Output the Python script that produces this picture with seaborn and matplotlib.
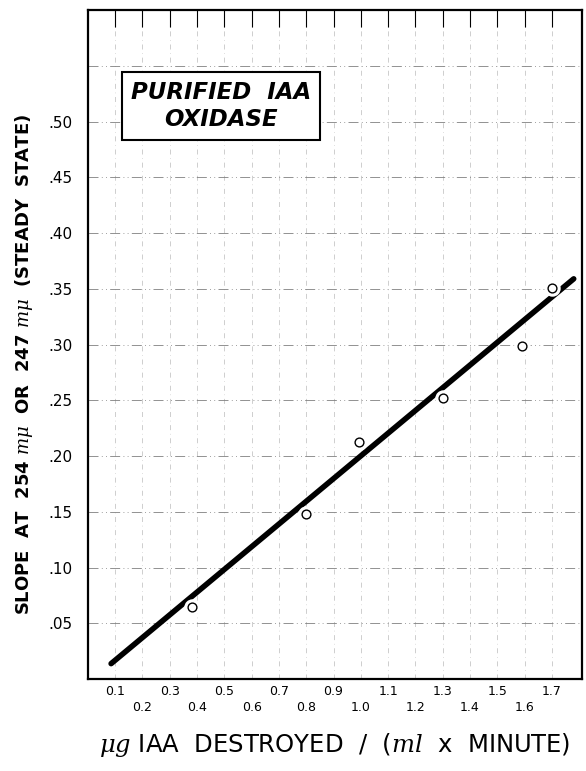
import numpy as np
import pandas as pd
import seaborn as sns
import matplotlib
matplotlib.use("Agg")
import matplotlib.pyplot as plt

# measured points (open circles)
rate = [0.38, 0.80, 0.995, 1.30, 1.59, 1.70]
slope = [0.065, 0.148, 0.213, 0.252, 0.299, 0.351]

# hand drawn fit line end points
fit_x = [0.085, 1.78]
fit_y = [0.014, 0.359]

x_major = [0.2, 0.4, 0.6, 0.8, 1.0, 1.2, 1.4, 1.6]
x_minor = [0.1, 0.3, 0.5, 0.7, 0.9, 1.1, 1.3, 1.5, 1.7]
y_ticks = [0.05, 0.10, 0.15, 0.20, 0.25, 0.30, 0.35, 0.40, 0.45, 0.50, 0.55]
y_labels = [".05", ".10", ".15", ".20", ".25", ".30", ".35", ".40", ".45", ".50", ""]

sns.set_style("white")
plt.rcParams['font.family'] = ['DejaVu Sans']
plt.rcParams['mathtext.fontset'] = 'dejavuserif'
plt.rcParams['text.color'] = 'black'
plt.rcParams['axes.labelcolor'] = 'black'
plt.rcParams['xtick.color'] = 'black'
plt.rcParams['ytick.color'] = 'black'

fig = plt.figure(figsize=(5.86, 7.71), dpi=100)
ax = fig.add_axes([0.150, 0.119, 0.843, 0.868])

pts = pd.DataFrame({"rate": rate, "slope": slope})
fit = pd.DataFrame({"x": fit_x, "y": fit_y})

sns.lineplot(data=fit, x="x", y="y", ax=ax, color="black", linewidth=4,
             solid_capstyle="round", zorder=3)
# white halo so the line breaks around the circles
sns.scatterplot(data=pts, x="rate", y="slope", ax=ax, s=140, color="white",
                edgecolor="white", linewidth=0, zorder=4)
sns.scatterplot(data=pts, x="rate", y="slope", ax=ax, s=40, facecolor="white",
                edgecolor="black", linewidth=1.0, zorder=5)

ax.set_xlim(0, 1.81)
ax.set_ylim(0, 0.6)

ax.set_xticks(x_major)
ax.set_xticklabels([f"{v:.1f}" for v in x_major], fontsize=9)
ax.set_xticks(x_minor, minor=True)
ax.set_xticklabels([f"{v:.1f}" for v in x_minor], minor=True, fontsize=9)
ax.tick_params(axis="x", which="major", direction="in", length=12, pad=16, width=0.8)
ax.tick_params(axis="x", which="minor", direction="in", length=12, pad=4, width=0.8)
ax.tick_params(axis="x", which="both", top=True)

ax.set_yticks(y_ticks)
ax.set_yticklabels(y_labels, fontsize=11)
ax.tick_params(axis="y", direction="out", length=8, width=0.8, pad=3)

ax.grid(True, which="both", axis="x", color="0.7", linestyle=(0, (8, 6, 1, 6)), linewidth=0.45)
ax.grid(True, which="major", axis="y", color="0.5", linestyle=(0, (12, 4, 1, 4, 1, 4)), linewidth=0.6)

for sp in ax.spines.values():
    sp.set_visible(True)
    sp.set_color("black")
    sp.set_linewidth(1.6)

ax.set_xlabel(r"$\mathit{\mu g}$ IAA  DESTROYED  /  ($\mathit{ml}$  x  MINUTE)", fontsize=17.5, labelpad=12)
ax.set_ylabel(r"SLOPE  AT  254 $\mathit{m\mu}$  OR  247 $\mathit{m\mu}$  (STEADY  STATE)",
              fontsize=13, fontweight="bold")
ax.yaxis.set_label_coords(-0.108, 0.47)

ax.text(0.487, 0.514, "PURIFIED  IAA\nOXIDASE", fontsize=16.5, fontweight="bold",
        fontstyle="italic", ha="center", va="center", linespacing=1.25,
        bbox=dict(boxstyle="square,pad=0.4", facecolor="white", edgecolor="black", linewidth=1.5),
        zorder=6)

fig.savefig("out.png", dpi=100)
